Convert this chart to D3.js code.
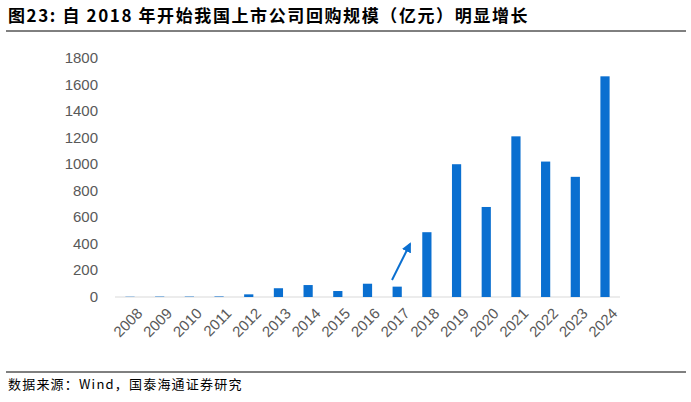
<!DOCTYPE html>
<html><head><meta charset="utf-8">
<script src="https://cdn.jsdelivr.net/npm/d3@7/dist/d3.min.js"></script>
<style>body{margin:0;background:#fff}</style></head>
<body><svg id="c" width="691" height="402"></svg>
<script>
const years=["2008","2009","2010","2011","2012","2013","2014","2015","2016","2017","2018","2019","2020","2021","2022","2023","2024"];
const values=[2,3,3,4,20,66,90,45,100,78,488,1000,678,1210,1020,905,1662];
const ticks=[0,200,400,600,800,1000,1200,1400,1600,1800];
const svg=d3.select("#c");
const font="'Liberation Sans',Arial,sans-serif";
svg.append("text").attr("x",8).attr("y",22).attr("font-family","'Noto Sans CJK SC',sans-serif").attr("font-weight","bold").attr("font-size",17).attr("letter-spacing",1.6).attr("fill","#000").text("图23:  自 2018 年开始我国上市公司回购规模（亿元）明显增长");
svg.append("line").attr("x1",6).attr("x2",686).attr("y1",31).attr("y2",31).attr("stroke","#000").attr("stroke-width",1);
svg.append("line").attr("x1",6).attr("x2",686).attr("y1",372).attr("y2",372).attr("stroke","#000").attr("stroke-width",1);
svg.append("text").attr("x",8).attr("y",389).attr("font-family","'Noto Sans CJK SC',sans-serif").attr("font-size",13).attr("letter-spacing",1.2).text("数据来源：Wind，国泰海通证券研究");
const x=d3.scaleBand().domain(years).range([115,620]).paddingInner(0.69).paddingOuter(0.35);
const y=d3.scaleLinear().domain([0,1800]).range([297,58]);
svg.append("line").attr("x1",115).attr("x2",620).attr("y1",y(0)).attr("y2",y(0)).attr("stroke","#d9d9d9");
svg.append("g").selectAll("text").data(ticks).join("text").attr("x",98).attr("y",d=>y(d)+5).attr("text-anchor","end").attr("font-family",font).attr("font-size",15).attr("fill","#595959").text(d=>d);
svg.append("g").selectAll("rect").data(values).join("rect").attr("x",(d,i)=>x(years[i])).attr("width",x.bandwidth()).attr("y",d=>y(d)).attr("height",d=>y(0)-y(d)).attr("fill","#0a6fd0");
svg.append("g").selectAll("text").data(years).join("text").attr("transform",d=>`translate(${x(d)+x.bandwidth()/2+6},${y(0)+10}) rotate(-45)`).attr("text-anchor","end").attr("dy","0.7em").attr("font-family",font).attr("font-size",15).attr("fill","#595959").text(d=>d);
svg.append("defs").append("marker").attr("id","ah").attr("viewBox","0 0 10 10").attr("refX",8).attr("refY",5).attr("markerWidth",5).attr("markerHeight",5).attr("orient","auto").append("path").attr("d","M0,0L10,5L0,10z").attr("fill","#0a6fd0");
svg.append("line").attr("x1",392).attr("y1",280).attr("x2",410).attr("y2",244).attr("stroke","#0a6fd0").attr("stroke-width",2).attr("marker-end","url(#ah)");
</script></body></html>
